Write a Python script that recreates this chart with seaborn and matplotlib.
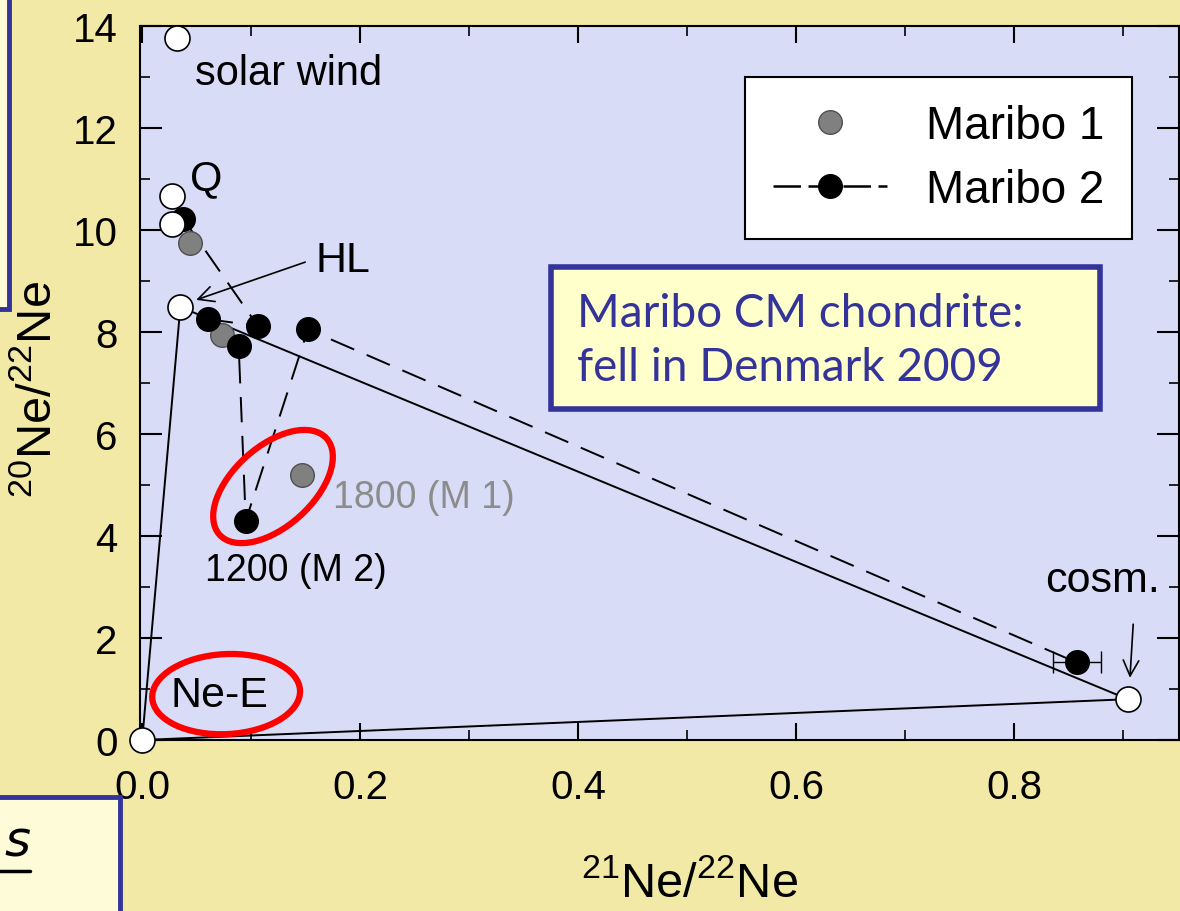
import numpy as np
import pandas as pd
import matplotlib
matplotlib.use("Agg")
import matplotlib.pyplot as plt
import seaborn as sns
from matplotlib.patches import Ellipse, Rectangle
from matplotlib.lines import Line2D
from matplotlib import transforms
from matplotlib.ticker import MultipleLocator

# ---------------- data ----------------
comp_names = ["solar wind", "Q", "Q'", "HL", "Ne-E", "cosm."]
comp_x = [0.032, 0.0275, 0.0275, 0.035, 0.0, 0.904]
comp_y = [13.76, 10.67, 10.12, 8.49, 0.0, 0.80]

# mixing triangle Ne-E -> HL -> cosm -> Ne-E
tri_x = [0.0, 0.035, 0.904, 0.0]
tri_y = [0.0, 8.49, 0.80, 0.0]

m1_x = [0.044, 0.0735, 0.147]
m1_y = [9.75, 7.94, 5.20]

m2_x = [0.0377, 0.106, 0.0605, 0.0885, 0.095, 0.152, 0.857]
m2_y = [10.22, 8.12, 8.25, 7.73, 4.30, 8.05, 1.52]
m2_xerr = [0, 0, 0, 0, 0, 0, 0.022]

x_ticks = [0.0, 0.2, 0.4, 0.6, 0.8]
y_ticks = [0, 2, 4, 6, 8, 10, 12, 14]

# ---------------- style ----------------
sns.set_theme(style="ticks")
plt.rcParams["font.family"] = ["Liberation Sans", "DejaVu Sans"]
plt.rcParams["mathtext.default"] = "regular"
for k in ["text.color", "axes.labelcolor", "xtick.color", "ytick.color",
          "xtick.labelcolor", "ytick.labelcolor"]:
    plt.rcParams[k] = "black"

BG = "#F3E9A7"
AXBG = "#D8DCF6"
NAVY = "#333399"

fig = plt.figure(figsize=(11.8, 9.12), dpi=100, facecolor=BG)
ax = fig.add_axes([140 / 1180, 171 / 912, 1039 / 1180, 714 / 912])
ax.set_facecolor(AXBG)

# side slide fragments
fig.patches.append(Rectangle((-0.02, (912 - 310) / 912), 0.02 + 9 / 1180, 0.05 + 310 / 912,
                             transform=fig.transFigure, fc="#FDFBD8", ec=NAVY, lw=3.5, zorder=0))
fig.patches.append(Rectangle((-0.02, -0.05), 0.02 + 120 / 1180, 0.05 + (912 - 798) / 912,
                             transform=fig.transFigure, fc="#FDFBD8", ec=NAVY, lw=3.5, zorder=0))
fig.text(30 / 1180, 1 - 857 / 912, "s", ha="right", va="baseline",
         fontsize=36, style="italic", family="DejaVu Sans", color="black")
fig.add_artist(Line2D([0, 30 / 1180], [1 - 872 / 912, 1 - 872 / 912],
                      transform=fig.transFigure, color="black", lw=2.5))

# lines
sns.lineplot(x=tri_x, y=tri_y, sort=False, estimator=None, color="black",
             lw=1.4, ax=ax, zorder=2)
sns.lineplot(x=m2_x, y=m2_y, sort=False, estimator=None, color="black",
             lw=1.4, ls=(0, (13, 7)), ax=ax, zorder=2)
ax.errorbar(m2_x[-1], m2_y[-1], xerr=m2_xerr[-1], fmt="none", ecolor="black",
            elinewidth=1.0, capsize=8, capthick=1.0, zorder=3)

# points
sns.scatterplot(x=m1_x, y=m1_y, s=17 ** 2, color="#808080", edgecolor="#505050",
                linewidth=1.0, ax=ax, zorder=4)
sns.scatterplot(x=m2_x, y=m2_y, s=17 ** 2, color="black", edgecolor="black",
                linewidth=1.0, ax=ax, zorder=5)
sns.scatterplot(x=comp_x, y=comp_y, s=18 ** 2, color="white", edgecolor="black",
                linewidth=1.2, ax=ax, zorder=6, clip_on=False)

# axes
ax.set_xlim(-0.002, 0.951)
ax.set_ylim(0, 14)
ax.set_xticks(x_ticks)
ax.set_xticklabels([f"{v:.1f}" for v in x_ticks])
ax.set_yticks(y_ticks)
ax.set_yticklabels([str(v) for v in y_ticks])
ax.xaxis.set_minor_locator(MultipleLocator(0.1))
ax.yaxis.set_minor_locator(MultipleLocator(1))
ax.tick_params(axis="both", which="both", direction="in", top=True, right=True,
               colors="black", labelcolor="black", labelsize=29)
ax.tick_params(axis="x", which="major", length=12, width=1.5, pad=20)
ax.tick_params(axis="y", which="major", length=16, width=1.5, pad=16)
ax.tick_params(axis="both", which="minor", length=7, width=1.2)
for sp in ax.spines.values():
    sp.set_color("black")
    sp.set_linewidth(1.5)
ax.set_xlabel("")
ax.set_ylabel("")

fig.text(689 / 1180, 1 - 884 / 912, r"$^{21}$Ne/$^{22}$Ne", ha="center", va="center",
         fontsize=35, color="black")
fig.text(38 / 1180, 1 - 390 / 912, r"$^{20}$Ne/$^{22}$Ne", ha="center", va="center",
         fontsize=35, rotation=90, color="black")

# annotations
ax.text(0.0486, 13.08, "solar wind", fontsize=30, va="center", ha="left", color="black")
ax.text(0.044, 11.02, "Q", fontsize=30, va="center", ha="left", color="black")
ax.text(0.159, 9.41, "HL", fontsize=31, va="center", ha="left", color="black")
ax.text(0.0257, 0.88, "Ne-E", fontsize=31, va="center", ha="left", color="black")
ax.text(0.175, 4.76, "1800 (M 1)", fontsize=27, va="center", ha="left", color="#8C8C8C")
ax.text(0.058, 3.33, "1200 (M 2)", fontsize=27, va="center", ha="left", color="black")
ax.text(0.828, 3.14, "cosm.", fontsize=31, va="center", ha="left", color="black")

ax.annotate("", xy=(0.0495, 8.63), xytext=(0.1495, 9.37),
            arrowprops=dict(arrowstyle="->", lw=1.2, color="black", mutation_scale=28,
                            shrinkA=0, shrinkB=0))
ax.annotate("", xy=(0.906, 1.22), xytext=(0.909, 2.27),
            arrowprops=dict(arrowstyle="->", lw=1.2, color="black", mutation_scale=28,
                            shrinkA=0, shrinkB=0))

# red ellipses (size in inches, centred on data points)
def red_ellipse(xc, yc, w, h, ang):
    tr = fig.dpi_scale_trans + transforms.ScaledTranslation(xc, yc, ax.transData)
    e = Ellipse((0, 0), w, h, angle=ang, transform=tr, fill=False, ec="#FF0000",
                lw=4.5, zorder=7, clip_on=False)
    ax.add_artist(e)

red_ellipse(0.120, 4.97, 1.44, 0.80, 42)
red_ellipse(0.077, 0.90, 1.48, 0.80, 3)

# info box
ax.add_patch(Rectangle((0.3956, 0.4636), 0.528, 0.199, transform=ax.transAxes,
                       fc="#FFFFCC", ec=NAVY, lw=4, zorder=8))
ax.text(0.4206, 0.560, "Maribo CM chondrite:\nfell in Denmark 2009", transform=ax.transAxes,
        ha="left", va="center", fontsize=33, family="Lato", color=NAVY,
        linespacing=1.35, zorder=9)

# legend
handles = [
    Line2D([], [], ls="none", marker="o", ms=17, mfc="#808080", mec="#505050", mew=1.0),
    Line2D([], [], color="black", lw=1.8, ls=(0, (11, 3)), marker="o", ms=17,
           mfc="black", mec="black"),
]
leg = ax.legend(handles, ["Maribo 1", "Maribo 2"], loc="upper right",
                bbox_to_anchor=(0.9548, 0.9286), fontsize=33, frameon=True,
                fancybox=False, framealpha=1, edgecolor="black", facecolor="white",
                borderpad=0.6, handlelength=2.5, handletextpad=0.85, labelspacing=0.42,
                borderaxespad=0)
leg.get_frame().set_linewidth(1.5)
leg.set_zorder(10)
for t in leg.get_texts():
    t.set_color("black")

fig.savefig("out.png", dpi=100, facecolor=BG)
